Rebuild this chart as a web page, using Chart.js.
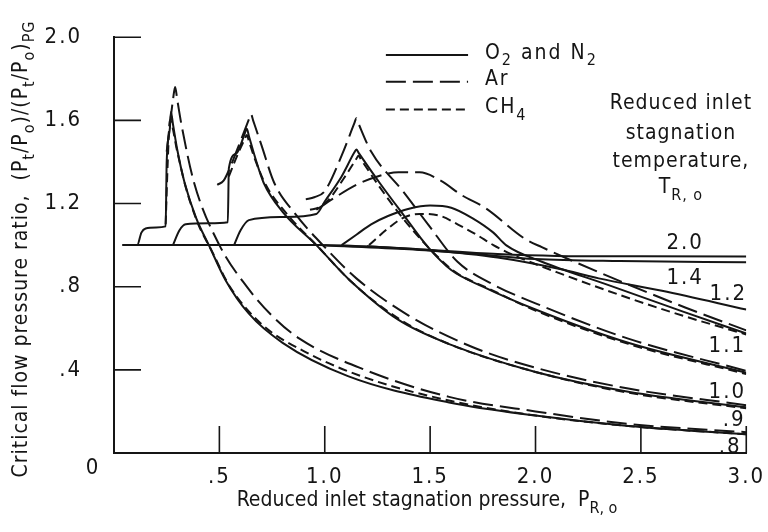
<!DOCTYPE html>
<html>
<head>
<meta charset="utf-8">
<script src="https://cdn.jsdelivr.net/npm/chart.js@4.4.1/dist/chart.umd.min.js"></script>
<style>
    html, body { margin: 0; padding: 0; background: #fff; }
    #wrap { width: 768px; height: 532px; }
</style>
</head>
<body>
<div id="wrap"><canvas id="flowChart" width="768" height="532"></canvas></div>
<script>
// Reduced inlet stagnation pressure (P) vs critical flow pressure ratio (R)
// one pair of arrays per curve

// T_R,o = 2.0 (all gases)
const tr20_p = [0.04, 0.97, 1.35, 1.82, 2.1, 2.5, 3.0];
const tr20_r = [1.0, 1.0, 0.986, 0.957, 0.948, 0.946, 0.945];
// T_R,o = 1.4
const tr14_p = [1.0, 1.4, 1.7, 2.0, 2.4, 3.0];
const tr14_r = [0.998, 0.98, 0.958, 0.933, 0.923, 0.918];
// T_R,o = 1.2
const tr12_p = [1.2, 1.5, 1.82, 2.11, 2.3, 2.6, 3.0];
const tr12_r = [0.995, 0.975, 0.94, 0.886, 0.84, 0.78, 0.69];

// T_R,o = 1.1
const tr11_o2_p = [1.08, 1.15, 1.22, 1.3, 1.4, 1.5, 1.6, 1.7, 1.8, 1.86, 2.03, 2.34, 2.7, 3.0];
const tr11_o2_r = [1.0, 1.05, 1.10, 1.14, 1.175, 1.19, 1.18, 1.13, 1.06, 1.0, 0.92, 0.81, 0.68, 0.575];
const tr11_ar_p = [0.96, 1.05, 1.15, 1.25, 1.35, 1.45, 1.55, 1.65, 1.76, 1.95, 2.03, 2.3, 2.71, 3.0];
const tr11_ar_r = [1.17, 1.23, 1.29, 1.33, 1.35, 1.35, 1.31, 1.24, 1.18, 1.03, 0.99, 0.87, 0.70, 0.59];
const tr11_ch4_p = [1.21, 1.3, 1.37, 1.45, 1.55, 1.63, 1.72, 1.8, 1.9, 2.1, 2.4, 2.7, 3.0];
const tr11_ch4_r = [1.0, 1.08, 1.13, 1.15, 1.14, 1.10, 1.05, 1.0, 0.95, 0.87, 0.76, 0.66, 0.57];

// T_R,o = 1.0
const tr10_o2_p = [0.57, 0.60, 0.64, 0.8, 0.96, 1.0, 1.08, 1.14, 1.15, 1.16, 1.26, 1.37, 1.49, 1.6, 1.75, 2.0, 2.44, 3.0];
const tr10_o2_r = [1.0, 1.07, 1.12, 1.135, 1.15, 1.21, 1.33, 1.445, 1.46, 1.445, 1.30, 1.15, 0.99, 0.88, 0.80, 0.69, 0.53, 0.386];
const tr10_ar_p = [0.91, 0.95, 1.0, 1.08, 1.14, 1.15, 1.16, 1.22, 1.37, 1.49, 1.63, 1.8, 2.0, 2.44, 3.0];
const tr10_ar_r = [1.22, 1.23, 1.26, 1.43, 1.585, 1.61, 1.585, 1.45, 1.26, 1.10, 0.92, 0.81, 0.72, 0.55, 0.395];
const tr10_ch4_p = [0.93, 0.97, 1.02, 1.09, 1.15, 1.16, 1.17, 1.26, 1.37, 1.5, 1.62, 1.78, 2.0, 2.44, 3.0];
const tr10_ch4_r = [1.17, 1.18, 1.22, 1.32, 1.415, 1.43, 1.415, 1.28, 1.13, 0.98, 0.87, 0.79, 0.685, 0.525, 0.38];

// T_R,o = 0.9
const tr09_o2_p = [0.28, 0.31, 0.34, 0.45, 0.54, 0.545, 0.58, 0.62, 0.63, 0.64, 0.67, 0.71, 0.80, 0.96, 1.12, 1.35, 1.6, 2.0, 2.44, 3.0];
const tr09_o2_r = [1.0, 1.07, 1.10, 1.105, 1.11, 1.37, 1.44, 1.535, 1.56, 1.525, 1.42, 1.30, 1.16, 1.0, 0.83, 0.64, 0.52, 0.39, 0.295, 0.22];
const tr09_ar_p = [0.49, 0.52, 0.545, 0.60, 0.64, 0.65, 0.66, 0.70, 0.76, 0.86, 1.0, 1.15, 1.4, 1.7, 2.0, 2.44, 3.0];
const tr09_ar_r = [1.29, 1.31, 1.36, 1.50, 1.605, 1.63, 1.60, 1.48, 1.30, 1.15, 0.99, 0.84, 0.66, 0.51, 0.41, 0.31, 0.23];
const tr09_ch4_p = [0.545, 0.58, 0.62, 0.63, 0.64, 0.67, 0.72, 0.82, 0.97, 1.13, 1.36, 1.6, 2.0, 2.44, 3.0];
const tr09_ch4_r = [1.33, 1.42, 1.51, 1.53, 1.50, 1.41, 1.29, 1.15, 0.99, 0.82, 0.64, 0.52, 0.39, 0.29, 0.215];

// T_R,o = 0.8
const tr08_o2_p = [0.04, 0.11, 0.13, 0.15, 0.2, 0.245, 0.25, 0.265, 0.27, 0.28, 0.30, 0.335, 0.39, 0.45, 0.53, 0.64, 0.80, 1.11, 1.59, 2.0, 2.44, 3.0];
const tr08_o2_r = [1.0, 1.0, 1.06, 1.08, 1.085, 1.09, 1.40, 1.56, 1.64, 1.58, 1.46, 1.30, 1.13, 1.0, 0.83, 0.67, 0.53, 0.37, 0.243, 0.18, 0.13, 0.09];
const tr08_ar_p = [0.25, 0.28, 0.29, 0.30, 0.32, 0.38, 0.50, 0.63, 0.75, 0.88, 1.19, 1.59, 2.0, 2.44, 3.0];
const tr08_ar_r = [1.45, 1.70, 1.76, 1.70, 1.58, 1.30, 1.0, 0.80, 0.66, 0.55, 0.40, 0.27, 0.20, 0.14, 0.10];
const tr08_ch4_p = [0.245, 0.255, 0.265, 0.30, 0.34, 0.40, 0.46, 0.55, 0.7, 0.9, 1.2, 1.6, 2.0, 2.44, 3.0];
const tr08_ch4_r = [1.10, 1.40, 1.60, 1.45, 1.28, 1.10, 0.98, 0.80, 0.62, 0.49, 0.36, 0.25, 0.18, 0.13, 0.09];

// tick values
const xTicks = [0.5, 1.0, 1.5, 2.0, 2.5, 3.0];
const yTicks = [0.4, 0.8, 1.2, 1.6, 2.0];

// curve labels at the right end: [text, P, R]
const curveLabels = [
    ['2.0', 2.71, 1.010],
    ['1.4', 2.71, 0.838],
    ['1.2', 2.915, 0.762],
    ['1.1', 2.91, 0.514],
    ['1.0', 2.91, 0.290],
    ['.9', 2.943, 0.157],
    ['.8', 2.924, 0.029]
];

const INK = '#151515';
const FONT = "'Liberation Sans Narrow', 'DejaVu Sans Condensed', 'Liberation Sans', sans-serif";
const SPACING = '2px';
const AR_DASH = [20, 7];
const CH4_DASH = [9, 5];

Chart.defaults.font.family = FONT;
Chart.defaults.color = INK;

function pts(p, r) {
    return p.map((x, i) => ({ x: x, y: r[i] }));
}

function curve(p, r, dash) {
    return {
        data: pts(p, r),
        showLine: true,
        borderColor: INK,
        borderWidth: 2,
        borderDash: dash || [],
        pointRadius: 0,
        fill: false,
        cubicInterpolationMode: 'monotone'
    };
}

function fmt(v) {
    if (Math.abs(v) < 1e-9) return '';
    return v.toFixed(1).replace(/^0/, '');
}

// draws text with subscript pieces, parts = [[text, isSub], ...]
function richText(ctx, parts, x, y, size, align) {
    const sub = Math.round(size * 0.75);
    const widths = parts.map(([t, s]) => {
        ctx.font = (s ? sub : size) + 'px ' + FONT;
        return ctx.measureText(t).width;
    });
    const total = widths.reduce((a, b) => a + b, 0);
    let cx = align === 'center' ? x - total / 2 : (align === 'right' ? x - total : x);
    ctx.textAlign = 'left';
    ctx.textBaseline = 'middle';
    parts.forEach(([t, s], i) => {
        ctx.font = (s ? sub : size) + 'px ' + FONT;
        ctx.fillText(t, cx, s ? y + size * 0.38 : y);
        cx += widths[i];
    });
}

const spacingPlugin = {
    id: 'spacing',
    beforeLayout(chart) { chart.ctx.letterSpacing = SPACING; },
    beforeDraw(chart) { chart.ctx.letterSpacing = SPACING; }
};

const decorations = {
    id: 'decorations',
    afterDraw(chart) {
        const ctx = chart.ctx;
        const { x, y } = chart.scales;
        const area = chart.chartArea;
        ctx.save();
        ctx.letterSpacing = SPACING;
        ctx.fillStyle = INK;
        ctx.strokeStyle = INK;

        // inward tick marks
        const tickLen = 27;
        ctx.lineWidth = 1.6;
        ctx.beginPath();
        xTicks.forEach(v => {
            const px = x.getPixelForValue(v);
            ctx.moveTo(px, area.bottom);
            ctx.lineTo(px, area.bottom - tickLen);
        });
        yTicks.forEach(v => {
            const py = y.getPixelForValue(v);
            ctx.moveTo(area.left, py);
            ctx.lineTo(area.left + tickLen, py);
        });
        ctx.stroke();

        // shared origin label
        ctx.font = '22px ' + FONT;
        ctx.textAlign = 'center';
        ctx.textBaseline = 'middle';
        ctx.fillText('0', area.left - 21, area.bottom + 15);

        // legend
        const rows = [
            [[['O', 0], ['2', 1], [' and N', 0], ['2', 1]], [], 1.914],
            [[['Ar', 0]], AR_DASH, 1.786],
            [[['CH', 0], ['4', 1]], CH4_DASH, 1.652]
        ];
        rows.forEach(([parts, dash, r]) => {
            const py = y.getPixelForValue(r);
            ctx.lineWidth = 2;
            ctx.setLineDash(dash);
            ctx.beginPath();
            ctx.moveTo(x.getPixelForValue(1.29), py);
            ctx.lineTo(x.getPixelForValue(1.68), py);
            ctx.stroke();
            ctx.setLineDash([]);
            richText(ctx, parts, x.getPixelForValue(1.76), py - 2, 21, 'left');
        });

        // temperature note
        ctx.letterSpacing = '1px';
        const cxNote = x.getPixelForValue(2.69);
        ctx.font = '21px ' + FONT;
        ctx.textAlign = 'center';
        ctx.textBaseline = 'middle';
        ctx.fillText('Reduced inlet', cxNote, y.getPixelForValue(1.681));
        ctx.fillText('stagnation', cxNote, y.getPixelForValue(1.538));
        ctx.fillText('temperature,', cxNote, y.getPixelForValue(1.40));
        richText(ctx, [['T', 0], ['R, o', 1]], cxNote, y.getPixelForValue(1.276), 21, 'center');

        // curve labels
        ctx.letterSpacing = SPACING;
        ctx.font = '22px ' + FONT;
        ctx.textAlign = 'center';
        ctx.textBaseline = 'middle';
        curveLabels.forEach(([t, p, r]) => {
            ctx.fillText(t, x.getPixelForValue(p), y.getPixelForValue(r));
        });

        // axis titles
        ctx.letterSpacing = '0px';
        richText(ctx, [['Reduced inlet stagnation pressure,  P', 0], ['R, o', 1]], 427, 501, 21, 'center');
        ctx.letterSpacing = '1px';
        ctx.translate(22, 249);
        ctx.rotate(-Math.PI / 2);
        richText(ctx, [
            ['Critical flow pressure ratio,  (P', 0], ['t', 1], ['/P', 0], ['o', 1],
            [')/(P', 0], ['t', 1], ['/P', 0], ['o', 1], [')', 0], ['PG', 1]
        ], 0, 0, 21, 'center');
        ctx.restore();
    }
};

const ctx = document.getElementById('flowChart').getContext('2d');
new Chart(ctx, {
    type: 'scatter',
    data: {
        datasets: [
            curve(tr20_p, tr20_r),
            curve(tr14_p, tr14_r),
            curve(tr12_p, tr12_r),
            curve(tr11_o2_p, tr11_o2_r),
            curve(tr11_ar_p, tr11_ar_r, AR_DASH),
            curve(tr11_ch4_p, tr11_ch4_r, CH4_DASH),
            curve(tr10_o2_p, tr10_o2_r),
            curve(tr10_ar_p, tr10_ar_r, AR_DASH),
            curve(tr10_ch4_p, tr10_ch4_r, CH4_DASH),
            curve(tr09_o2_p, tr09_o2_r),
            curve(tr09_ar_p, tr09_ar_r, AR_DASH),
            curve(tr09_ch4_p, tr09_ch4_r, CH4_DASH),
            curve(tr08_o2_p, tr08_o2_r),
            curve(tr08_ar_p, tr08_ar_r, AR_DASH),
            curve(tr08_ch4_p, tr08_ch4_r, CH4_DASH)
        ]
    },
    options: {
        responsive: false,
        animation: false,
        events: [],
        layout: { padding: { top: 33, right: 19, left: 0, bottom: 0 } },
        plugins: {
            legend: { display: false },
            tooltip: { enabled: false }
        },
        scales: {
            x: {
                type: 'linear',
                min: 0,
                max: 3,
                afterFit: s => { s.height = 79; },
                grid: { display: false },
                border: { display: true, color: INK, width: 2 },
                ticks: {
                    stepSize: 0.5,
                    padding: 3,
                    maxRotation: 0,
                    autoSkip: false,
                    color: INK,
                    font: { size: 22 },
                    callback: v => fmt(v)
                }
            },
            y: {
                type: 'linear',
                min: 0,
                max: 2,
                afterFit: s => { s.width = 114; },
                grid: { display: false },
                border: { display: true, color: INK, width: 2 },
                ticks: {
                    stepSize: 0.4,
                    padding: 24,
                    color: INK,
                    font: { size: 22 },
                    callback: v => fmt(v)
                }
            }
        }
    },
    plugins: [spacingPlugin, decorations]
});
</script>
</body>
</html>
